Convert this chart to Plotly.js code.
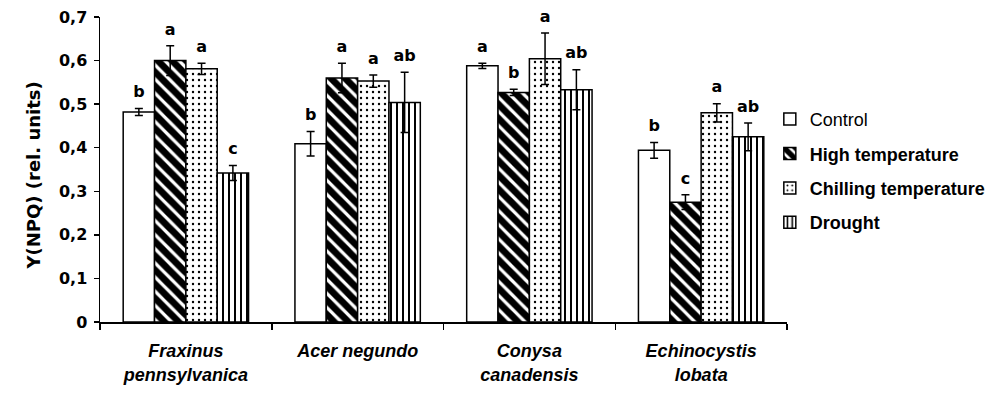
<!DOCTYPE html>
<html>
<head>
<meta charset="utf-8">
<script src="https://cdn.plot.ly/plotly-3.0.1.min.js"></script>
<style>html,body{margin:0;padding:0;background:#fff;}#chart{width:1003px;height:393px;}</style>
</head>
<body>
<div id="chart"></div>
<script>
// ---- data ----
const categories = ["Fraxinus<br>pennsylvanica", "Acer negundo", "Conysa<br>canadensis", "Echinocystis<br>lobata"];
const seriesNames = ["Control", "High temperature", "Chilling temperature", "Drought"];
const yTitle = "Y(NPQ) (rel. units)";

const controlVals = [0.482, 0.409, 0.588, 0.394];
const controlErr  = [0.008, 0.028, 0.006, 0.018];
const controlSig  = ["b", "b", "a", "b"];

const highVals = [0.600, 0.560, 0.527, 0.275];
const highErr  = [0.034, 0.034, 0.007, 0.017];
const highSig  = ["a", "a", "b", "c"];

const chillVals = [0.581, 0.553, 0.604, 0.480];
const chillErr  = [0.013, 0.014, 0.059, 0.021];
const chillSig  = ["a", "a", "a", "a"];

const droughtVals = [0.342, 0.504, 0.533, 0.425];
const droughtErr  = [0.017, 0.069, 0.046, 0.032];
const droughtSig  = ["c", "ab", "ab", "ab"];

const yTickVals = [0, 0.1, 0.2, 0.3, 0.4, 0.5, 0.6, 0.7];

// ---- styles ----
const values = [controlVals, highVals, chillVals, droughtVals];
const errs = [controlErr, highErr, chillErr, droughtErr];
const sigs = [controlSig, highSig, chillSig, droughtSig];
const patterns = [
  {shape: "", bgcolor: "#ffffff"},
  {shape: "\\", fgcolor: "#000000", bgcolor: "#ffffff", size: 10, solidity: 0.68, fillmode: "replace"},
  {shape: ".", fgcolor: "#000000", bgcolor: "#ffffff", size: 6, solidity: 0.12, fillmode: "replace"},
  {shape: "|", fgcolor: "#000000", bgcolor: "#ffffff", size: 6, solidity: 0.33, fillmode: "replace"}
];
const legendLabels = ["Control", "<b>High temperature</b>", "<b>Chilling temperature</b>", "<b>Drought</b>"];

const traces = [];
for (let i = 0; i < 4; i++) {
  traces.push({
    type: "bar",
    name: legendLabels[i],
    x: categories,
    y: values[i],
    offsetgroup: String(i),
    legendgroup: String(i),
    marker: {color: "#ffffff", pattern: patterns[i], line: {color: "#000000", width: 1.5}},
    error_y: {type: "data", array: errs[i], visible: true, color: "#000000", thickness: 1.5, width: 4}
  });
}
for (let i = 0; i < 4; i++) {
  traces.push({
    type: "scatter",
    mode: "markers+text",
    x: categories,
    y: values[i].map((v, k) => v + errs[i][k]),
    text: sigs[i],
    textposition: "top center",
    marker: {size: 10, opacity: 0},
    textfont: {family: "DejaVu Sans", size: 16, color: "#000000", weight: "bold"},
    offsetgroup: String(i),
    showlegend: false,
    hoverinfo: "skip",
    cliponaxis: false
  });
}

const layout = {
  width: 1003,
  height: 393,
  margin: {l: 100, r: 207, t: 17, b: 71, pad: 0},
  paper_bgcolor: "#ffffff",
  plot_bgcolor: "#ffffff",
  separators: ", ",
  barmode: "group",
  bargap: 0.27,
  bargroupgap: 0,
  scattermode: "group",
  scattergap: 0.27,
  showlegend: true,
  legend: {
    x: 0.975, xanchor: "left",
    y: 0.725, yanchor: "top",
    traceorder: "grouped",
    tracegroupgap: 8,
    font: {family: "Liberation Sans", size: 18, color: "#000000"},
    bgcolor: "rgba(0,0,0,0)",
    itemclick: false
  },
  xaxis: {
    type: "category",
    showline: true, linecolor: "#000000", linewidth: 1.5,
    ticks: "outside", tickson: "boundaries", ticklen: 6, tickcolor: "#000000", tickwidth: 1.5,
    ticklabelstandoff: 12,
    showgrid: false, zeroline: false,
    automargin: false,
    tickfont: {family: "Liberation Sans", size: 18, color: "#000000", style: "italic", weight: "bold"}
  },
  yaxis: {
    range: [0, 0.7],
    tickvals: yTickVals,
    showline: true, linecolor: "#000000", linewidth: 1.5,
    ticks: "outside", ticklen: 5, tickcolor: "#000000", tickwidth: 1.5,
    ticklabelstandoff: 3,
    showgrid: false, zeroline: false,
    automargin: false,
    tickfont: {family: "DejaVu Sans", size: 16, color: "#000000", weight: "bold"}
  },
  annotations: [{
    text: yTitle,
    xref: "paper", yref: "paper",
    x: 0, y: 0.5,
    xanchor: "center", yanchor: "middle",
    xshift: -67, yshift: -6,
    textangle: -90,
    showarrow: false,
    font: {family: "DejaVu Sans", size: 18, color: "#000000", weight: "bold"}
  }]
};

Plotly.newPlot("chart", traces, layout, {displayModeBar: false, staticPlot: true});
</script>
</body>
</html>
